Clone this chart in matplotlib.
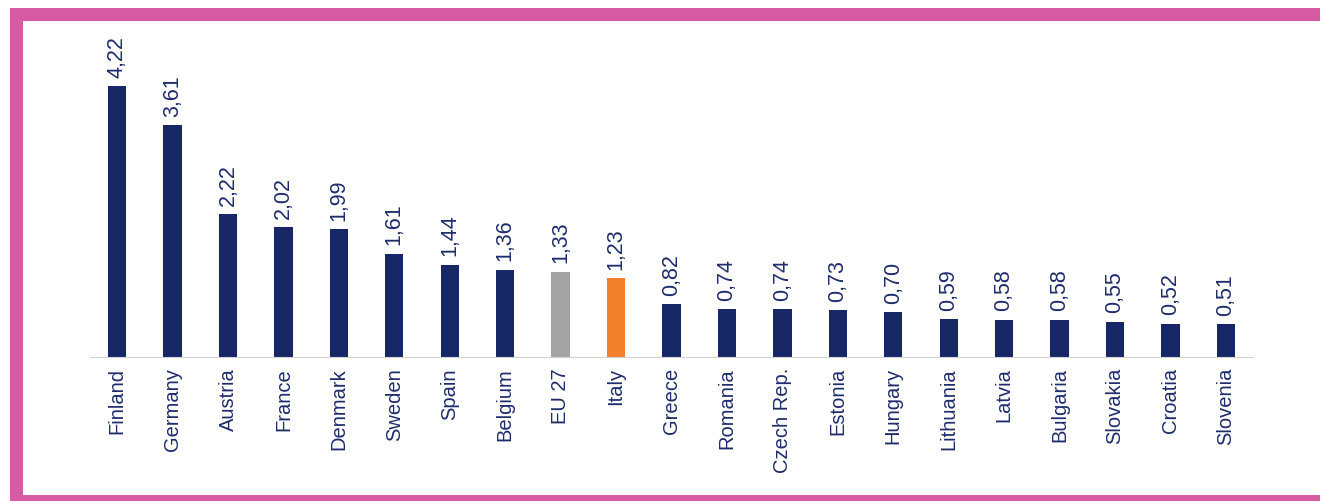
import matplotlib
matplotlib.use("Agg")
import matplotlib.pyplot as plt
from matplotlib.patches import Rectangle
from matplotlib import font_manager

countries = ["Finland", "Germany", "Austria", "France", "Denmark", "Sweden", "Spain",
             "Belgium", "EU 27", "Italy", "Greece", "Romania", "Czech Rep.", "Estonia",
             "Hungary", "Lithuania", "Latvia", "Bulgaria", "Slovakia", "Croatia", "Slovenia"]
values = [4.22, 3.61, 2.22, 2.02, 1.99, 1.61, 1.44, 1.36, 1.33, 1.23, 0.82, 0.74,
          0.74, 0.73, 0.70, 0.59, 0.58, 0.58, 0.55, 0.52, 0.51]

NAVY = "#172766"
GREY = "#a3a3a3"
ORANGE = "#f2802c"
PINK = "#d65ba2"
TEXT = "#1e2c6c"

highlight = {"EU 27": GREY, "Italy": ORANGE}
colors = [highlight.get(c, NAVY) for c in countries]

available = {f.name for f in font_manager.fontManager.ttflist}
family = ["Liberation Sans Narrow"] if "Liberation Sans Narrow" in available else ["Liberation Sans", "DejaVu Sans"]
plt.rcParams["font.family"] = family

W, H = 1320, 501
fig = plt.figure(figsize=(W / 100, H / 100), dpi=100)
fig.patch.set_facecolor("white")

# axes placed in pixel terms: baseline at y=357, plot area x 90..1253
left, right, base, top = 90, 1253, 357, 30
ax = fig.add_axes([left / W, (H - base) / H, (right - left) / W, (base - top) / H])
px_per_unit = 64.2
ax.set_ylim(0, (base - top) / px_per_unit)
ax.set_xlim(-0.49, len(countries) - 0.51)

x = list(range(len(countries)))
ax.bar(x, values, width=0.33, color=colors, zorder=2)

for xi, v in zip(x, values):
    ax.annotate(f"{v:.2f}".replace(".", ","), (xi, v), xytext=(0, 6),
                textcoords="offset points", rotation=90, ha="center", va="bottom",
                fontsize=15.5, color=TEXT)

ax.set_xticks(x)
ax.set_xticklabels(countries, rotation=90, fontsize=14.5, color=TEXT)
ax.tick_params(axis="x", length=0, pad=8)
ax.set_yticks([])
for s in ("top", "right", "left"):
    ax.spines[s].set_visible(False)
ax.spines["bottom"].set_color("#d4d4d4")
ax.spines["bottom"].set_linewidth(0.8)
ax.set_facecolor("none")

# pink frame
def band(x0, y0, x1, y1):
    fig.patches.append(Rectangle((x0 / W, (H - y1) / H), (x1 - x0) / W, (y1 - y0) / H,
                                 transform=fig.transFigure, facecolor=PINK,
                                 edgecolor="none", zorder=5))

band(10, 8, W, 21)
band(10, 8, 23, H)
band(10, 495, W, H)

fig.savefig("out.png", dpi=100, facecolor="white")
